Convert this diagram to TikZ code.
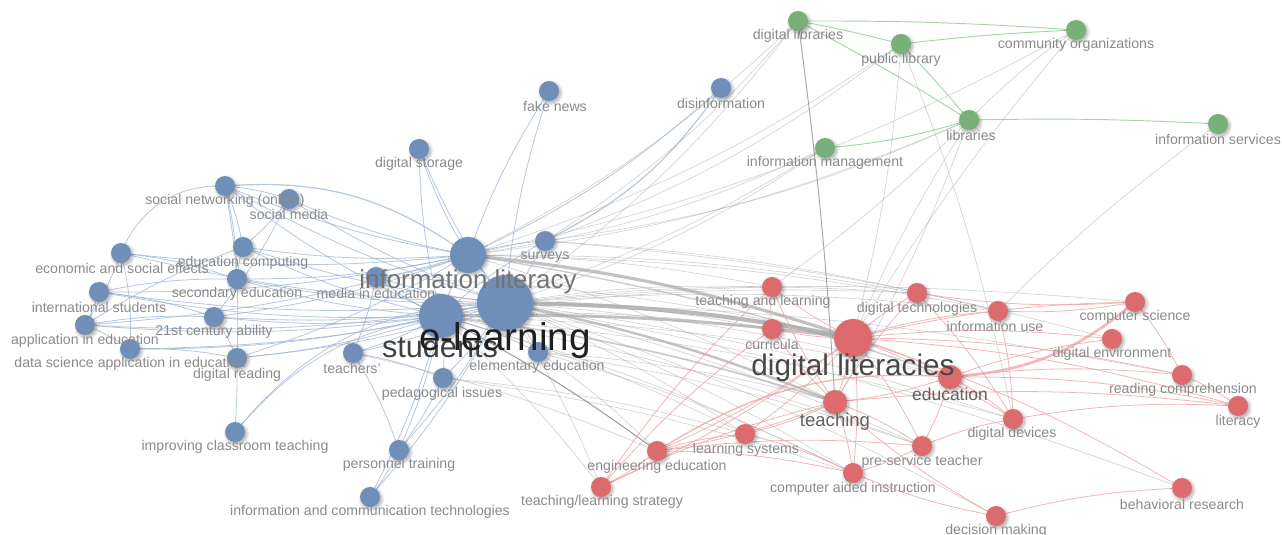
\documentclass[tikz,border=0pt]{standalone}
\usepackage{fontspec}
\setmainfont{Liberation Sans}
\usetikzlibrary{shadows.blur,backgrounds}
\definecolor{bluenode}{HTML}{6F8FB8}
\definecolor{rednode}{HTML}{DD6B6D}
\definecolor{greennode}{HTML}{78B07A}
\definecolor{blueedge}{HTML}{9DB4D4}
\definecolor{rededge}{HTML}{EDA3A5}
\definecolor{greenedge}{HTML}{9CCF9C}
\definecolor{grayedge}{HTML}{A8A8A8}
\definecolor{labelgray}{HTML}{8A8A8A}
\begin{document}
\begin{tikzpicture}[x=0.75pt,y=-0.75pt,
  kw/.style={circle, inner sep=0pt, minimum size=#1*1.5pt,
    blur shadow={shadow xshift=1.2pt, shadow yshift=-1.5pt, shadow blur radius=2.5pt, shadow opacity=35, shadow blur steps=8}},
  bnode/.style={kw=#1, fill=bluenode}, bnode/.default=10,
  rnode/.style={kw=#1, fill=rednode}, rnode/.default=10,
  gnode/.style={kw=#1, fill=greennode}, gnode/.default=10,
  lab/.style={text=labelgray, inner sep=0pt, font=\fontsize{10.6}{12}\selectfont},
  be/.style={draw=blueedge, line width=0.6pt, opacity=0.75, bend left=6},
  re/.style={draw=rededge, line width=0.6pt, opacity=0.8, bend left=6},
  ge/.style={draw=greenedge, line width=0.7pt, opacity=0.9, bend left=2},
  ye/.style={draw=grayedge, line width=0.5pt, opacity=0.5, bend left=5},
  yu/.style={ye, bend right=8},
]
\useasboundingbox (0,0) rectangle (1282,535);

% ---------- keyword circles: blue cluster ----------
\node[bnode] (fake) at (549,91) {};
\node[bnode] (disinfo) at (721,88) {};
\node[bnode] (dstor) at (419,149) {};
\node[bnode] (socnet) at (225,186) {};
\node[bnode] (socmed) at (289,199) {};
\node[bnode] (econ) at (121,253) {};
\node[bnode] (educomp) at (243,247) {};
\node[bnode] (secedu) at (237,279) {};
\node[bnode] (intl) at (99,292) {};
\node[bnode] (c21) at (214,317) {};
\node[bnode] (appl) at (85,325) {};
\node[bnode] (dsci) at (130,349) {};
\node[bnode] (dread) at (237,358) {};
\node[bnode] (media) at (376,277) {};
\node[bnode] (surveys) at (545,241) {};
\node[bnode] (teachers) at (353,353) {};
\node[bnode] (elem) at (538,352) {};
\node[bnode] (ped) at (443,378) {};
\node[bnode] (improv) at (235,432) {};
\node[bnode] (pers) at (399,450) {};
\node[bnode] (ict) at (370,497) {};
\node[bnode=18] (il) at (468,255) {};
\node[bnode=22] (st) at (441,316) {};
\node[bnode=28] (el) at (505,303) {};

% ---------- green cluster ----------
\node[gnode] (dlibs) at (798,21) {};
\node[gnode] (publib) at (901,44) {};
\node[gnode] (comorg) at (1076,30) {};
\node[gnode] (libs) at (969,120) {};
\node[gnode] (infomgmt) at (825,148) {};
\node[gnode] (infserv) at (1218,124) {};

% ---------- red cluster ----------
\node[rnode] (tal) at (772,287) {};
\node[rnode] (curr) at (772,329) {};
\node[rnode] (dtech) at (917,293) {};
\node[rnode] (iuse) at (998,311) {};
\node[rnode] (compsci) at (1135,302) {};
\node[rnode] (denv) at (1112,339) {};
\node[rnode] (readc) at (1182,375) {};
\node[rnode] (lit) at (1238,406) {};
\node[rnode] (ddev) at (1013,419) {};
\node[rnode] (lsys) at (745,434) {};
\node[rnode] (engedu) at (657,451) {};
\node[rnode] (pst) at (922,446) {};
\node[rnode] (cai) at (853,473) {};
\node[rnode] (tls) at (601,487) {};
\node[rnode] (behav) at (1182,488) {};
\node[rnode] (dec) at (996,516) {};
\node[rnode=12] (edu) at (950,377) {};
\node[rnode=12] (teach) at (835,402) {};
\node[rnode=19] (dl) at (853,338) {};

% ---------- links ----------
\begin{scope}[on background layer]
% links between clusters
\foreach \a/\b in {il/teach, el/edu, el/curr, el/tal, el/cai, st/cai, el/pst, il/dtech,
  el/iuse, publib/dl, libs/teach, publib/ddev, el/dec, el/ddev, st/lsys,
  el/compsci, el/tls, elem/cai, el/dtech, il/iuse, st/pst, el/lsys,
  st/edu, elem/engedu, st/tls, el/behav, media/dl, ped/cai,
  elem/teach, st/curr, st/dtech, el/readc, ped/lsys, teachers/engedu,
  il/tal, elem/pst, st/ddev, surveys/iuse, surveys/denv}
  \draw[ye] (\a.center) to (\b.center);
% links rising towards the library keywords
\foreach \a/\b in {il/libs, il/infomgmt, el/dlibs, il/dlibs, st/infomgmt, el/infomgmt,
  il/publib, surveys/libs, il/comorg, surveys/publib, surveys/dlibs}
  \draw[yu] (\a.center) to (\b.center);
\foreach \a/\b in {comorg/dl, libs/dl, infserv/iuse, tal/libs}
  \draw[ye, bend left=4] (\b.center) to (\a.center);
\draw[ye, draw=gray, opacity=0.7, line width=0.7pt] (dlibs.center) to[bend left=2] (teach.center);
\draw[ye, draw=gray, opacity=0.75, line width=0.8pt] (st.center) to[bend left=4] (engedu.center);
% heavy links between the main hubs
\draw[draw=grayedge, opacity=0.8, line width=3.2pt] (el.center) to[bend left=5] (dl.center);
\draw[draw=grayedge, opacity=0.7, line width=2.4pt] (il.center) to[bend left=6] (dl.center);
\draw[draw=grayedge, opacity=0.7, line width=2.2pt] (st.center) to[bend left=4] (dl.center);
\draw[draw=grayedge, opacity=0.7, line width=1.8pt] (el.center) to[bend left=5] (teach.center);
\draw[draw=grayedge, opacity=0.6, line width=1.3pt] (st.center) to[bend left=5] (teach.center);
\draw[draw=grayedge, opacity=0.6, line width=1.0pt] (il.center) to[bend left=5] (edu.center);

% blue cluster links
\foreach \a/\b in {el/dstor, el/socnet, el/socmed, el/econ, el/educomp, el/secedu, el/intl, el/c21,
  el/appl, el/dsci, el/dread, el/media, el/teachers, el/elem, el/ped, el/pers, el/ict,
  el/fake, surveys/el, il/el, st/el,
  il/dstor, il/socnet, il/socmed, il/econ, il/educomp, il/secedu, il/intl, il/appl, il/media,
  il/surveys, il/fake, st/il, il/c21, il/dread,
  st/dstor, st/secedu, st/intl, st/c21, st/appl, st/dsci, st/dread, st/media, st/teachers,
  st/ped, st/pers, st/ict, st/elem, st/surveys, st/socnet, st/educomp,
  socnet/socmed, socnet/educomp, socnet/secedu, socmed/educomp, socmed/c21,
  econ/appl, intl/appl, intl/c21, appl/dsci, appl/c21, dsci/dread, c21/dread,
  secedu/educomp, teachers/pers, teachers/ped, media/teachers, pers/ict, ped/pers,
  econ/secedu, intl/secedu, appl/educomp, socnet/dread}
  \draw[be] (\a.center) to (\b.center);
\draw[be] (econ.center) to[bend left=35] (socnet.center);
\draw[be] (econ.center) to[bend left=8] (dsci.center);
\draw[be] (dread.center) to[bend left=2] (improv.center);
\draw[be] (improv.center) to[bend left=25] (el.center);
\draw[be] (improv.center) to[bend left=20] (st.center);
\draw[be, line width=0.9pt] (surveys.center) to[bend right=14] (disinfo.center);
\draw[be] (il.center) to[bend right=8] (disinfo.center);
\draw[be, line width=0.9pt] (socnet.center) to[bend left=20] (il.center);

% red cluster links
\foreach \a/\b in {dl/tal, dl/curr, dl/dtech, dl/iuse, dl/compsci, dl/denv, dl/edu, dl/teach,
  dl/readc, dl/ddev, dl/pst, dl/behav, dl/engedu, dl/tls, dl/lsys, dl/cai, dl/lit,
  edu/teach, edu/ddev, edu/readc, edu/pst, edu/lit,
  teach/cai, teach/pst, teach/engedu, teach/tal, teach/curr, teach/lsys, teach/dtech, teach/lit,
  compsci/readc, compsci/iuse, compsci/dtech, readc/lit, ddev/lit, pst/ddev, pst/cai,
  dec/behav, dec/teach, dec/cai, engedu/tls, engedu/lsys, engedu/cai, tls/curr, tls/tal,
  tls/teach, lsys/cai, curr/tal, dtech/ddev, iuse/ddev, edu/denv, engedu/pst}
  \draw[re] (\a.center) to (\b.center);
\draw[re, line width=2pt, opacity=0.75] (edu.center) to[bend right=18] (compsci.center);
\draw[re, line width=1pt] (engedu.center) to[bend left=18] (edu.center);

% green cluster links
\foreach \a/\b in {dlibs/publib, dlibs/comorg, publib/comorg, publib/libs, dlibs/libs,
  libs/infserv}
  \draw[ge] (\a.center) to (\b.center);
\draw[ge, bend right=6] (infomgmt.center) to (libs.center);
\draw[ye] (libs.center) to (comorg.center);
\end{scope}

% ---------- labels ----------
\node[lab] (l-fake) at (555,106) {fake news};
\node[lab] (l-disinfo) at (721,103) {disinformation};
\node[lab] (l-dstor) at (419,164) {digital storage};
\node[lab] (l-socnet) at (225,201) {social networking (online)};
\node[lab] (l-socmed) at (289,214) {social media};
\node[lab] (l-econ) at (122,268) {economic and social effects};
\node[lab] (l-educomp) at (243,263) {education computing};
\node[lab] (l-secedu) at (237,294) {secondary education};
\node[lab] (l-intl) at (99,307) {international students};
\node[lab] (l-c21) at (214,332) {21st century ability};
\node[lab] (l-appl) at (85,341) {application in education};
\node[lab] (l-dsci) at (130,364) {data science application in education};
\node[lab] (l-dread) at (237,375) {digital reading};
\node[lab] (l-media) at (376,293) {media in education};
\node[lab] (l-surveys) at (545,257) {surveys};
\node[lab] (l-teachers) at (352,368) {teachers'};
\node[lab] (l-elem) at (537,367) {elementary education};
\node[lab] (l-ped) at (442,394) {pedagogical issues};
\node[lab] (l-improv) at (235,447) {improving classroom teaching};
\node[lab] (l-pers) at (399,465) {personnel training};
\node[lab] (l-ict) at (370,512) {information and communication technologies};

\node[lab] (l-dlibs) at (798,36) {digital libraries};
\node[lab] (l-publib) at (901,60) {public library};
\node[lab] (l-comorg) at (1076,45) {community organizations};
\node[lab] (l-libs) at (971,135) {libraries};
\node[lab] (l-infomgmt) at (825,163) {information management};
\node[lab] (l-infserv) at (1218,139) {information services};

\node[lab] (l-tal) at (763,302) {teaching and learning};
\node[lab] (l-curr) at (772,344) {curricula};
\node[lab] (l-dtech) at (917,309) {digital technologies};
\node[lab] (l-iuse) at (995,326) {information use};
\node[lab] (l-compsci) at (1135,317) {computer science};
\node[lab] (l-denv) at (1112,354) {digital environment};
\node[lab] (l-readc) at (1183,390) {reading comprehension};
\node[lab] (l-lit) at (1238,422) {literacy};
\node[lab] (l-ddev) at (1012,434) {digital devices};
\node[lab] (l-lsys) at (746,450) {learning systems};
\node[lab] (l-engedu) at (657,467) {engineering education};
\node[lab] (l-pst) at (922,462) {pre-service teacher};
\node[lab] (l-cai) at (853,489) {computer aided instruction};
\node[lab] (l-tls) at (602,502) {teaching/learning strategy};
\node[lab] (l-behav) at (1182,504) {behavioral research};
\node[lab] (l-dec) at (996,531) {decision making};

% larger labels of the most frequent keywords
\node[lab, text=black!55, font=\fontsize{19.4}{22}\selectfont] (l-il) at (468,282) {information literacy};
\node[lab, text=black!75, font=\fontsize{23}{26}\selectfont] (l-st) at (440,347) {students};
\node[lab, text=black!88, font=\fontsize{29}{32}\selectfont] (l-el) at (505,340) {e-learning};
\node[lab, text=black!72, font=\fontsize{22.3}{25}\selectfont] (l-dl) at (853,368) {digital literacies};
\node[lab, text=black!62, font=\fontsize{13.9}{16}\selectfont] (l-teach) at (835,422) {teaching};
\node[lab, text=black!62, font=\fontsize{13.1}{15}\selectfont] (l-edu) at (950,394) {education};
\end{tikzpicture}
\end{document}
